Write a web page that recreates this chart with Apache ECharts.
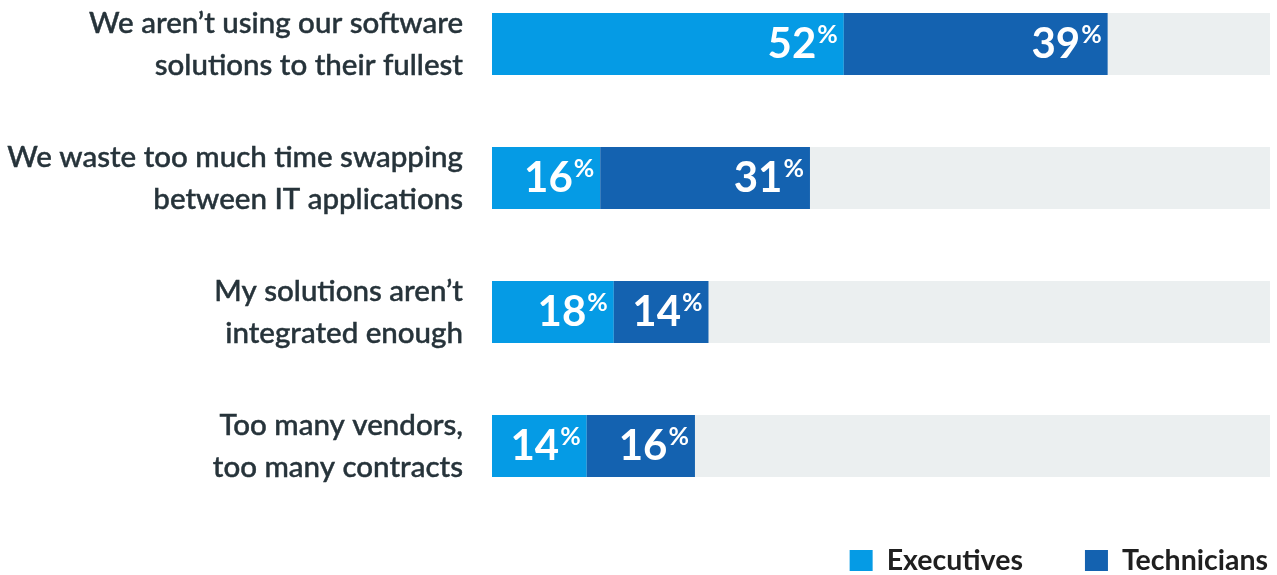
<!DOCTYPE html>
<html>
<head>
<meta charset="utf-8">
<script src="https://cdn.jsdelivr.net/npm/echarts@6/dist/echarts.min.js"></script>
<style>
  html, body { margin: 0; padding: 0; background: #ffffff; }
  #chart { width: 1277px; height: 575px; }
</style>
</head>
<body>
<div id="chart"></div>
<script>
// Survey statements (each label wraps onto two lines)
const categories = [
  "We aren\u2019t using our software\nsolutions to their fullest",
  "We waste too much time swapping\nbetween IT applications",
  "My solutions aren\u2019t\nintegrated enough",
  "Too many vendors,\ntoo many contracts"
];
const seriesNames = ["Executives", "Technicians"];
const executives = [52, 16, 18, 14];
const technicians = [39, 31, 14, 16];

const colors = { exec: "#059be5", tech: "#1462b0", track: "#ebeff0", text: "#26333a", legend: "#1f1f1f" };
const FONT = "Lato, 'Noto Sans', sans-serif";

const valueLabel = {
  show: true,
  position: "insideRight",
  distance: 6,
  formatter: p => "{v|" + p.value + "}{p|%}",
  rich: {
    v: { fontFamily: FONT, fontWeight: "bold", fontSize: 42, color: "#ffffff", lineHeight: 44 },
    p: { fontFamily: FONT, fontWeight: "bold", fontSize: 25, color: "#ffffff", verticalAlign: "top", lineHeight: 24, padding: [0, 0, 0, 1] }
  }
};

const chart = echarts.init(document.getElementById("chart"), null, { renderer: "canvas" });
chart.setOption({
  animation: false,
  // category points sit on the grid edges, one row every 134px
  grid: { left: 492, right: 7, top: 44, height: 402, containLabel: false },
  xAxis: { type: "value", min: 0, max: 115, show: false },
  yAxis: {
    type: "category",
    inverse: true,
    boundaryGap: false,
    data: categories,
    axisLine: { show: false },
    axisTick: { show: false },
    splitLine: { show: false },
    axisLabel: {
      margin: 29,
      align: "right",
      fontFamily: FONT,
      fontWeight: 500,
      fontSize: 29.5,
      lineHeight: 42,
      color: colors.text,
      // a thin outline gives the labels a medium weight
      textBorderColor: colors.text,
      textBorderWidth: 0.45
    }
  },
  legend: {
    data: seriesNames,
    right: 4,
    bottom: -5,
    icon: "rect",
    itemWidth: 23,
    itemHeight: 21,
    itemGap: 62,
    textStyle: { fontFamily: FONT, fontWeight: "bold", fontSize: 28.5, color: colors.legend, padding: [0, 0, 0, 9] }
  },
  series: [
    {
      name: seriesNames[0],
      type: "bar",
      stack: "total",
      data: executives,
      barWidth: 62,
      clip: false,
      itemStyle: { color: colors.exec },
      showBackground: true,
      backgroundStyle: { color: colors.track },
      label: valueLabel
    },
    {
      name: seriesNames[1],
      type: "bar",
      stack: "total",
      data: technicians,
      barWidth: 62,
      clip: false,
      itemStyle: { color: colors.tech },
      label: valueLabel
    }
  ]
});
</script>
</body>
</html>
